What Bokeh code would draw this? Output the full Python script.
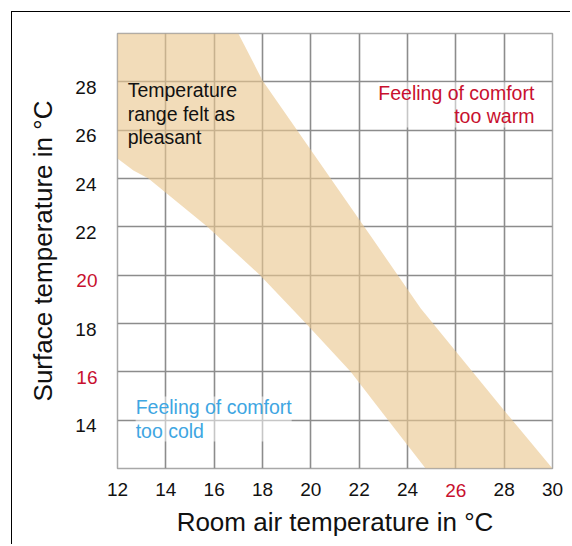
from bokeh.plotting import figure
from bokeh.models import Range1d, FixedTicker, Label, LinearAxis
from bokeh.embed import file_html
from bokeh.resources import INLINE

# ---- data ----
x_ticks = [12, 14, 16, 18, 20, 22, 24, 26, 28, 30]
y_ticks = [14, 16, 18, 20, 22, 24, 26, 28]
grid_ticks = [14, 16, 18, 20, 22, 24, 26, 28]
x_red_ticks = [26]
y_red_ticks = [16, 20]

# comfort band: warm-side boundary (top to bottom)
band_right_x = [17.0, 18.0, 22.6, 24.55, 28.0, 30.0]
band_right_y = [30.0, 28.06, 21.44, 18.62, 14.4, 12.0]
# cold-side boundary (bottom to top)
band_left_x = [24.75, 23.2, 21.65, 19.8, 17.9, 15.72, 13.28, 12.66, 12.0]
band_left_y = [12.0, 14.0, 16.0, 18.0, 20.0, 22.0, 24.0, 24.33, 24.83]
band_corner_x = [12.0]
band_corner_y = [30.0]

X_MIN, X_MAX, Y_MIN, Y_MAX = 12, 30, 12, 30

FONT = "Liberation Sans"
RED = "#c8102e"
BLUE = "#3ea6e2"
BLACK = "#111111"
LABEL_SHIFT = 0.23  # y tick labels sit slightly below their grid lines
X_STANDOFF = 14
Y_STANDOFF = 21
X_LABEL_H = 15   # measured extent of the inner x tick labels
Y_LABEL_W = 25   # measured extent of the inner y tick labels

p = figure(width=559, height=533, x_range=Range1d(X_MIN, X_MAX), y_range=Range1d(Y_MIN, Y_MAX),
           output_backend="svg", toolbar_location=None,
           min_border_left=105, min_border_right=19, min_border_top=21, min_border_bottom=77)
p.extra_y_ranges = {"lab": Range1d(Y_MIN + LABEL_SHIFT, Y_MAX + LABEL_SHIFT)}
p.margin = (11, 0, 0, 11)
p.styles = {"border-top": "1px solid #000", "border-left": "1px solid #000"}
p.background_fill_color = "white"
p.border_fill_color = "white"
p.outline_line_color = "#a8a8a8"
p.outline_line_width = 1.5

for g in (p.xgrid[0], p.ygrid[0]):
    g.ticker = FixedTicker(ticks=grid_ticks)
    g.grid_line_color = "#8c8c8c"
    g.grid_line_width = 1.6


def style_axis(a, color):
    a.axis_line_color = None
    a.major_tick_line_color = None
    a.minor_tick_line_color = None
    a.major_tick_out = 0
    a.major_tick_in = 0
    a.major_label_text_font = FONT
    a.major_label_text_font_size = "19px"
    a.major_label_text_color = color
    a.axis_label_text_font = FONT
    a.axis_label_text_font_size = "26px"
    a.axis_label_text_font_style = "normal"
    a.axis_label_text_color = BLACK


# inner axes: black tick labels
xa = p.xaxis[0]
xa.ticker = FixedTicker(ticks=x_ticks)
xa.major_label_overrides = {t: "" for t in x_red_ticks}
style_axis(xa, BLACK)
xa.major_label_standoff = X_STANDOFF

ya = p.yaxis[0]
ya.y_range_name = "lab"
ya.ticker = FixedTicker(ticks=y_ticks)
ya.major_label_overrides = {t: "" for t in y_red_ticks}
style_axis(ya, BLACK)
ya.major_label_standoff = Y_STANDOFF

# outer axes: red tick labels pulled back onto the same line, plus the axis titles
xr = LinearAxis(ticker=FixedTicker(ticks=x_red_ticks))
style_axis(xr, RED)
xr.major_label_standoff = -X_LABEL_H
xr.axis_label = "Room air temperature in °C"
xr.axis_label_standoff = 7
p.add_layout(xr, "below")

yr = LinearAxis(ticker=FixedTicker(ticks=y_red_ticks), y_range_name="lab")
style_axis(yr, RED)
yr.major_label_standoff = -Y_LABEL_W
yr.axis_label = "Surface temperature in °C"
yr.axis_label_standoff = 15
p.add_layout(yr, "left")

p.patch(x=band_corner_x + band_right_x + band_left_x,
        y=band_corner_y + band_right_y + band_left_y,
        fill_color="#eac790", fill_alpha=0.63, line_color=None)

p.add_layout(Label(x=12.42, y=28.1, text="Temperature\nrange felt as\npleasant",
                   text_align="left", text_baseline="top", text_color=BLACK,
                   text_font=FONT, text_font_size="19.5px", text_line_height=1.05))
p.add_layout(Label(x=29.25, y=27.98, text="Feeling of comfort\ntoo warm",
                   text_align="right", text_baseline="top", text_color=RED,
                   text_font=FONT, text_font_size="19.5px", text_line_height=1.05,
                   background_fill_color="white", background_fill_alpha=0.5))
p.add_layout(Label(x=12.75, y=14.98, text="Feeling of comfort\ntoo cold",
                   text_align="left", text_baseline="top", text_color=BLUE,
                   text_font=FONT, text_font_size="19.5px", text_line_height=1.05,
                   background_fill_color="white", background_fill_alpha=0.5))

open("out.html", "w").write(file_html(p, INLINE))
